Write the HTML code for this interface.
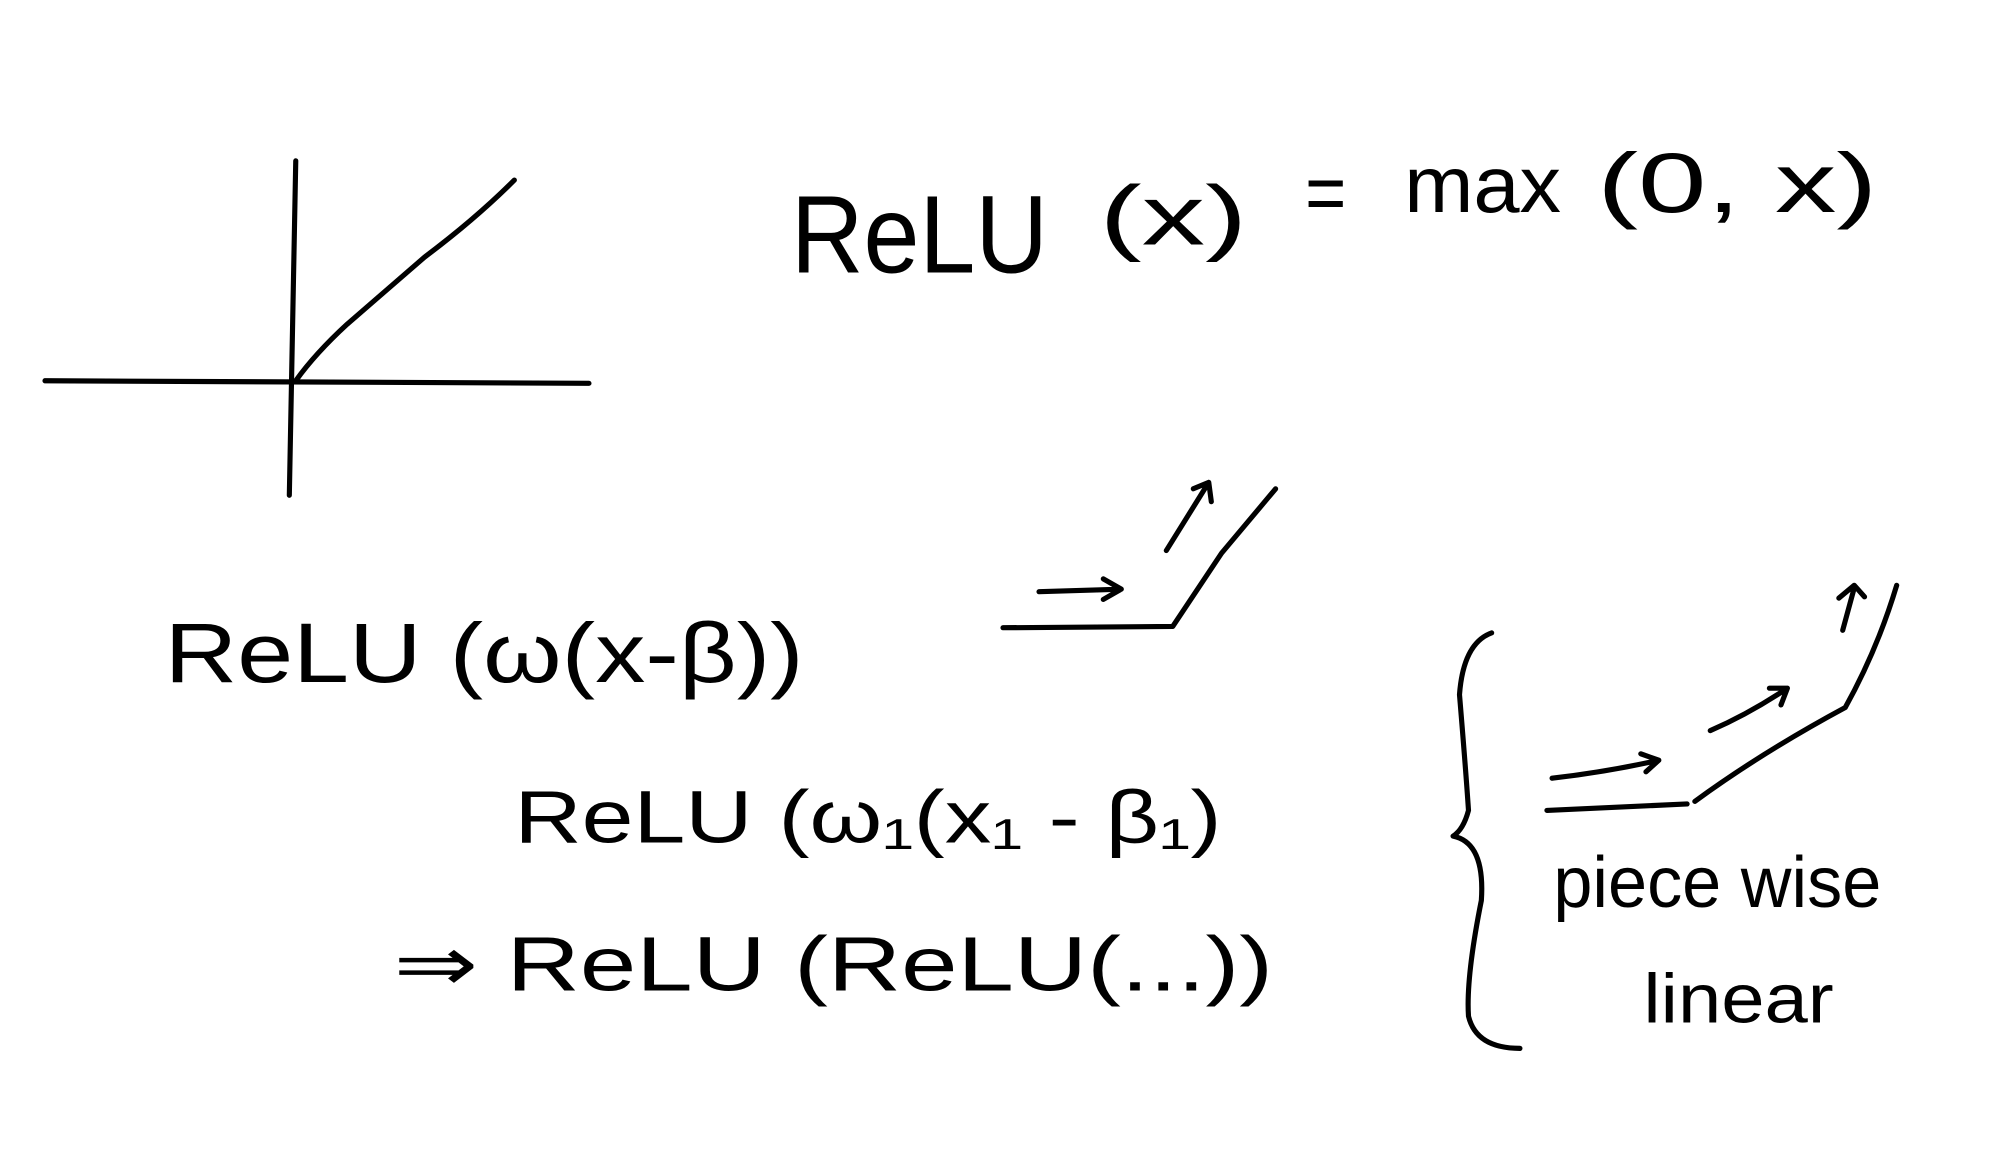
<!DOCTYPE html>
<html><head><meta charset="utf-8"><style>
html,body{margin:0;padding:0;background:#fff;}
svg{display:block;}
text{font-family:"Liberation Sans",sans-serif;fill:#000;}
</style></head><body>
<svg width="2006" height="1168" viewBox="0 0 1560 908" preserveAspectRatio="none" xmlns="http://www.w3.org/2000/svg">
<g fill="none" stroke="#000" stroke-width="4" stroke-linecap="round" stroke-linejoin="round">
<path d="M230 125 L225 385"/>
<path d="M35 296 L458 298"/>
<path d="M230 296 Q245 275 270 252 L330 200 Q370 170 400 140"/>
<path d="M808 460 L872 458 M858 450 L872 458 L858 466"/>
<path d="M780 488 L912 487 L950 430 L992 380"/>
<path d="M907 428 L940 375 M928 380 L940 375 L942 390"/>
<path d="M1160 492 Q1138 500 1135 540 Q1140 600 1142 630 Q1138 645 1130 650 Q1155 655 1152 700 Q1140 760 1142 790 Q1148 815 1182 815"/>
<path d="M1203 630 L1312 625 M1318 623 Q1370 585 1435 550 Q1460 505 1475 455"/>
<path d="M1207 605 Q1250 600 1290 591 M1276 586 L1290 591 L1280 600"/>
<path d="M1330 568 Q1360 555 1390 535 M1376 535 L1390 535 L1385 548"/>
<path d="M1433 490 L1442 457 M1430 465 L1442 455 L1450 464"/>
</g>
<text x="615" y="212" font-size="86" textLength="200" lengthAdjust="spacingAndGlyphs">ReLU</text>
<text x="855" y="190" font-size="66" textLength="115" lengthAdjust="spacingAndGlyphs">(x)</text>
<text x="1015" y="172" font-size="64" textLength="32" lengthAdjust="spacingAndGlyphs">=</text>
<text x="1092" y="165" font-size="62" textLength="122" lengthAdjust="spacingAndGlyphs">max</text>
<text x="1242" y="165" font-size="66" textLength="218" lengthAdjust="spacingAndGlyphs">(0, x)</text>
<text x="128" y="530" font-size="66" textLength="497" lengthAdjust="spacingAndGlyphs">ReLU (ω(x-β))</text>
<text x="400" y="655" font-size="58" textLength="550" lengthAdjust="spacingAndGlyphs">ReLU (ω₁(x₁ - β₁)</text>
<text x="306" y="770" font-size="60" textLength="684" lengthAdjust="spacingAndGlyphs">⇒ ReLU (ReLU(...))</text>
<text x="1208" y="705" font-size="56" textLength="255" lengthAdjust="spacingAndGlyphs">piece wise</text>
<text x="1278" y="795" font-size="54" textLength="148" lengthAdjust="spacingAndGlyphs">linear</text>
</svg>
</body></html>
